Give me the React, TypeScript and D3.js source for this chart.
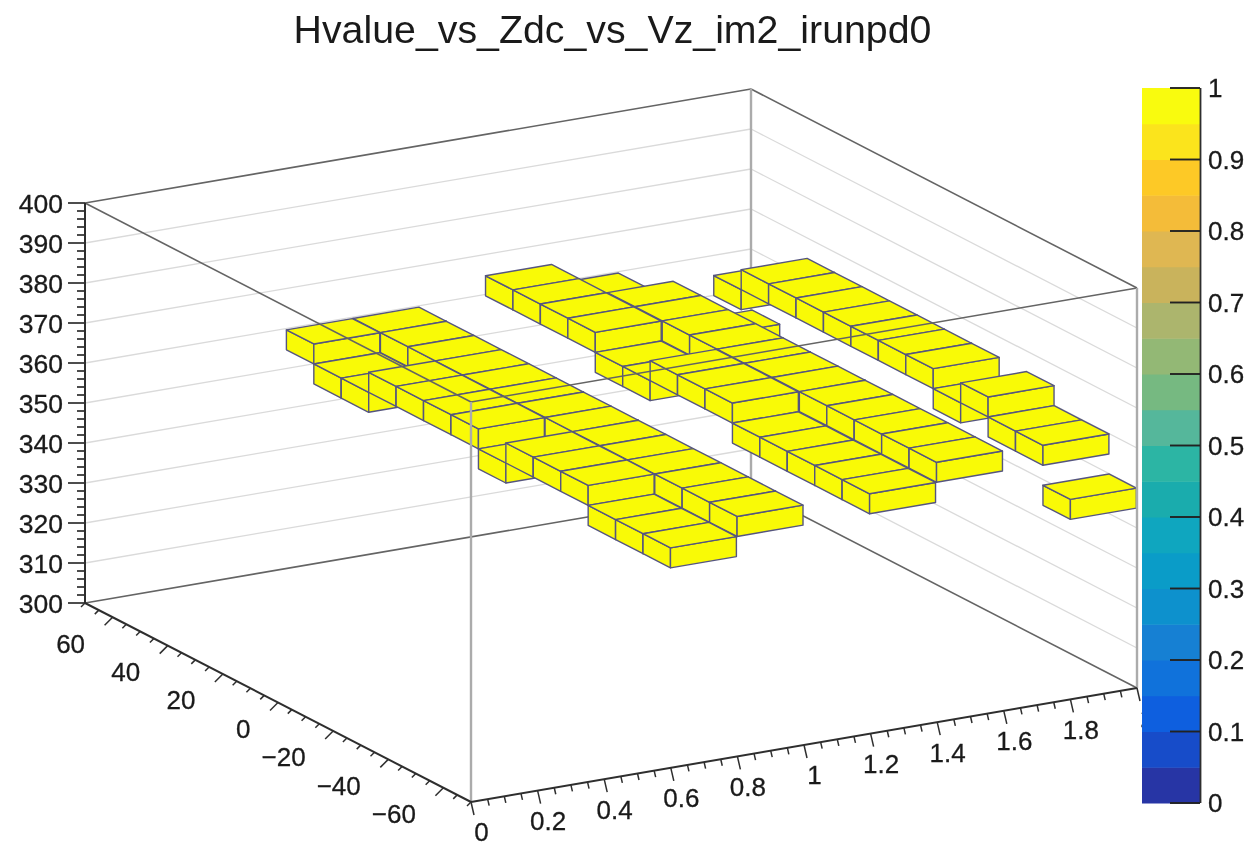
import React from "react";
import * as d3 from "d3";

const title = "Hvalue_vs_Zdc_vs_Vz_im2_irunpd0";

// Bin widths of the 3-D histogram
const xBinWidth = 0.198;
const yBinWidth = 9.95;
const zBinWidth = 5;

// Lower y edges of the bins (one per entry in each column below)
const yBinEdges = [-70, -60.05, -50.1, -40.15, -30.2, -20.25, -10.3, -0.35, 9.6, 19.55, 29.5, 39.45, 49.4, 59.35];

// Lower z edge of the filled bin, per y bin, for each populated x bin
const columnX06 = [350, 350, 350, 355, 355, 355, 350, 355, 355, 355, 355, 350, 350, 355];
const columnX08 = [355, 355, 355, 355, 355, 355, 355, 355, 355, 355, 355, 355, 355, 355];
const columnX12 = [355, 355, 355, 355, 355, 360, 360, 360, 355, 355, 360, 360, 360, 360];
const columnX14 = [360, 360, 360, 360, 360, 360, 360, 360, 360, 360, 360, 360, 355, 355];
const columnX18 = [345, 355, 355, 360, 355, 360, 360, 360, 360, 360, 360, 360, 355, 340];

const xColumns: [number, number[]][] = [
  [0.599, columnX06],
  [0.799, columnX08],
  [1.197, columnX12],
  [1.398, columnX14],
  [1.8, columnX18],
];

const xTickLabels = ["0", "0.2", "0.4", "0.6", "0.8", "1", "1.2", "1.4", "1.6", "1.8", "2"];
const xTickValues = [0, 0.2, 0.4, 0.6, 0.8, 1, 1.2, 1.4, 1.6, 1.8, 2];
const yTickValues = [60, 40, 20, 0, -20, -40, -60];
const zTickValues = [300, 310, 320, 330, 340, 350, 360, 370, 380, 390, 400];
const zGridValues = [310, 320, 330, 340, 350, 360, 370, 380, 390];
const paletteTicks = [0, 0.1, 0.2, 0.3, 0.4, 0.5, 0.6, 0.7, 0.8, 0.9, 1];

// Bottom to top, 20 levels
const paletteColors = [
  "#2735A5", "#174CC9", "#0E5FDF", "#1072DB", "#1680D3",
  "#0D91CD", "#0A9CC8", "#0FA6BF", "#1AACAD", "#2CB5A4",
  "#55B79B", "#76B981", "#93B875", "#ACB56D", "#C9B35C",
  "#DFB752", "#F4BC39", "#FDC926", "#FBE41C", "#F9FB0E",
];

// Projection of the cube, built from three linear scales
const xToSx = d3.scaleLinear([0, 2], [0, 666]);
const xToSy = d3.scaleLinear([0, 2], [0, -114]);
const yToSx = d3.scaleLinear([-70, 70], [0, -386]);
const yToSy = d3.scaleLinear([-70, 70], [0, -199]);
const zToSy = d3.scaleLinear([300, 400], [0, -400]);
const ORIGIN = { x: 471, y: 802 };

type P = [number, number];
const project = (x: number, y: number, z: number): P => [
  ORIGIN.x + xToSx(x) + yToSx(y),
  ORIGIN.y + xToSy(x) + yToSy(y) + zToSy(z),
];
const poly = (pts: P[]) => d3.line()(pts)! + "Z";

const fmtMinus = (v: number) => (v < 0 ? "\u2212" + Math.abs(v) : String(v));

const FONT = "'Liberation Sans', Arial, Helvetica, sans-serif";
const YELLOW = "#F9FA06";
const BOX_EDGE = "#55557F";
const FRAME = "#646464";
const WALL = "#ABABAB";
const GRID = "#DADADA";
const AXIS = "#2E2E2E";
const INK = "#1a1a1a";
const textStroke = { fill: INK, stroke: INK, strokeWidth: 0.3 };

const Seg = ({ a, b, c, w }: { a: P; b: P; c: string; w: number }) => (
  <line x1={a[0]} y1={a[1]} x2={b[0]} y2={b[1]} stroke={c} strokeWidth={w} />
);

export default function App() {
  // painter's order: far columns first
  const boxes = xColumns
    .flatMap(([x, zs]) => zs.map((z, i) => ({ x, y: yBinEdges[i], z })))
    .sort((p, q) => q.x - p.x || q.y - p.y);

  const xMinor = d3.range(0, 2.0001, 0.05);
  const yMinor = d3.range(-70, 70.001, 5);
  const zMinor = d3.range(300, 400.001, 2);

  const barY = d3.scaleLinear([0, 1], [803, 88]);

  return (
    <svg
      width={1247}
      height={844}
      style={{ position: "absolute", left: 0, top: 0, display: "block" }}
      fontFamily={FONT}
    >
      <defs>
        <filter id="soft" x="0" y="0" width="100%" height="100%" colorInterpolationFilters="sRGB">
          <feGaussianBlur stdDeviation="0.55" />
        </filter>
      </defs>
      <g filter="url(#soft)">
        <rect width={1247} height={844} fill="#fff" />

        <text x={612.5} y={43} fontSize={39.3} textAnchor="middle" fill={INK}>
          {title}
        </text>

        {/* back-wall grid */}
        {zGridValues.map((z) => (
          <g key={z}>
            <Seg a={project(0, 70, z)} b={project(2, 70, z)} c={GRID} w={1.3} />
            <Seg a={project(2, 70, z)} b={project(2, -70, z)} c={GRID} w={1.3} />
          </g>
        ))}

        {/* back frame */}
        <Seg a={project(0, 70, 400)} b={project(2, 70, 400)} c={FRAME} w={1.6} />
        <Seg a={project(2, 70, 400)} b={project(2, -70, 400)} c={FRAME} w={1.6} />
        <Seg a={project(0, 70, 300)} b={project(2, 70, 300)} c={FRAME} w={1.6} />
        <Seg a={project(2, 70, 300)} b={project(2, -70, 300)} c={FRAME} w={1.6} />
        <Seg a={project(2, 70, 300)} b={project(2, 70, 400)} c={WALL} w={2.4} />

        {/* boxes */}
        {boxes.map(({ x, y, z }, i) => {
          const x1 = x + xBinWidth;
          const y1 = y + yBinWidth;
          const z1 = z + zBinWidth;
          return (
            <g key={i} fill={YELLOW} stroke={BOX_EDGE} strokeWidth={1.4} strokeLinejoin="round">
              <path d={poly([project(x, y, z), project(x, y1, z), project(x, y1, z1), project(x, y, z1)])} />
              <path d={poly([project(x, y, z), project(x1, y, z), project(x1, y, z1), project(x, y, z1)])} />
              <path d={poly([project(x, y, z1), project(x1, y, z1), project(x1, y1, z1), project(x, y1, z1)])} />
            </g>
          );
        })}

        {/* front frame, over the boxes */}
        <Seg a={project(0, 70, 400)} b={project(0, -70, 400)} c={FRAME} w={1.6} />
        <Seg a={project(0, -70, 400)} b={project(2, -70, 400)} c={FRAME} w={1.6} />
        <Seg a={project(0, -70, 300)} b={project(0, -70, 400)} c={WALL} w={2.4} />
        <Seg a={project(2, -70, 300)} b={project(2, -70, 400)} c={WALL} w={2.4} />

        {/* z axis */}
        <Seg a={project(0, 70, 300)} b={project(0, 70, 400)} c={AXIS} w={2} />
        {zMinor.map((z) => {
          const [sx, sy] = project(0, 70, z);
          const major = (z - 300) % 10 === 0;
          return <line key={z} x1={sx - (major ? 17 : 8)} y1={sy} x2={sx} y2={sy} stroke={AXIS} strokeWidth={1.7} />;
        })}
        {zTickValues.map((z) => (
          <text key={z} x={63} y={project(0, 70, z)[1]} dy="0.36em" fontSize={26.5} textAnchor="end" {...textStroke}>
            {z}
          </text>
        ))}

        {/* y axis */}
        <Seg a={project(0, 70, 300)} b={project(0, -70, 300)} c={AXIS} w={2} />
        {yMinor.map((y) => {
          const [sx, sy] = project(0, y, 300);
          const major = y % 20 === 0;
          const k = major ? 1 : 0.5;
          return <line key={y} x1={sx} y1={sy} x2={sx - 8 * k} y2={sy + 8 * k} stroke={AXIS} strokeWidth={1.5} />;
        })}
        {yTickValues.map((y) => {
          const [sx, sy] = project(0, y, 300);
          return (
            <text key={y} x={sx - 27.5} y={sy + 26} dy="0.36em" fontSize={26} textAnchor="end" {...textStroke}>
              {fmtMinus(y)}
            </text>
          );
        })}

        {/* x axis */}
        <Seg a={project(0, -70, 300)} b={project(2, -70, 300)} c={AXIS} w={2} />
        {xMinor.map((x) => {
          const [sx, sy] = project(x, -70, 300);
          const major = Math.abs(x / 0.2 - Math.round(x / 0.2)) < 1e-6;
          const k = major ? 1 : 0.5;
          return <line key={x} x1={sx} y1={sy} x2={sx + 3 * k} y2={sy + 13 * k} stroke={AXIS} strokeWidth={1.5} />;
        })}
        {xTickValues.map((x, i) => {
          const [sx, sy] = project(x, -70, 300);
          return (
            <text key={x} x={sx + 10.5} y={sy + 30} dy="0.36em" fontSize={26} textAnchor="middle" {...textStroke}>
              {xTickLabels[i]}
            </text>
          );
        })}

        {/* palette */}
        {paletteColors.map((c, i) => {
          const v0 = i / paletteColors.length;
          const v1 = (i + 1) / paletteColors.length;
          return (
            <rect key={c} x={1142} y={barY(v1)} width={58} height={barY(v0) - barY(v1) + 0.5} fill={c} />
          );
        })}
        <line x1={1200.5} y1={barY(1)} x2={1200.5} y2={barY(0)} stroke={AXIS} strokeWidth={1.8} />
        {paletteTicks.map((v) => (
          <g key={v}>
            <line x1={1170} y1={barY(v)} x2={1200} y2={barY(v)} stroke="#222" strokeWidth={1.9} />
            <text x={1208} y={barY(v)} dy="0.36em" fontSize={26} {...textStroke}>
              {v}
            </text>
          </g>
        ))}
      </g>
    </svg>
  );
}
